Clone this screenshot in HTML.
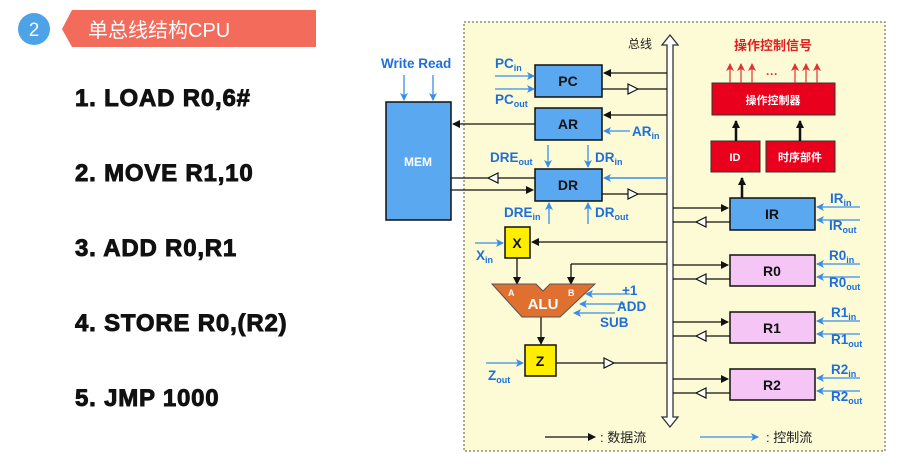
<!DOCTYPE html>
<html><head><meta charset="utf-8"><style>
body{margin:0;width:905px;height:470px;background:#fff;overflow:hidden}
svg{display:block}
.ins{font:bold 24px "Liberation Sans","DejaVu Sans",sans-serif;fill:#111;stroke:#111;stroke-width:0.9;letter-spacing:0.8px}
.bl{font:bold 13.5px "Liberation Sans",sans-serif;fill:#1e6fd9}
.sb{font:bold 9px "Liberation Sans",sans-serif;fill:#1e6fd9}
.bx{font:bold 14px "Liberation Sans",sans-serif;fill:#111}
.cj{font-family:"Liberation Sans","Noto Sans CJK SC",sans-serif}
</style></head><body>
<svg width="905" height="470" viewBox="0 0 905 470" xmlns="http://www.w3.org/2000/svg">
<defs>
<marker id="ab" markerWidth="8" markerHeight="8" refX="7" refY="4" orient="auto" markerUnits="userSpaceOnUse"><path d="M0,0 L8,4 L0,8z" fill="#111"/></marker>
<marker id="au" markerWidth="8" markerHeight="8" refX="7" refY="4" orient="auto" markerUnits="userSpaceOnUse"><path d="M0,0 L8,4 L0,8 L2,4z" fill="#3a8ee8"/></marker>
<marker id="ar" markerWidth="8" markerHeight="8" refX="7" refY="4" orient="auto" markerUnits="userSpaceOnUse"><path d="M0,0 L8,4 L0,8 L2,4z" fill="#d33"/></marker>
</defs>
<circle cx="34" cy="29" r="16" fill="#4da3e8"/>
<text x="34" y="36" text-anchor="middle" font-family="Liberation Sans" font-size="19" fill="#fff">2</text>
<path d="M72,10 L316,10 L316,47 L72,47 L62,29z" fill="#f26b5b"/>
<text x="88" y="37" class="cj" font-size="20" fill="#fff">单总线结构CPU</text>
<text x="75" y="106" class="ins">1.  LOAD R0,6#</text>
<text x="75" y="181" class="ins">2.  MOVE R1,10</text>
<text x="75" y="256" class="ins">3.  ADD R0,R1</text>
<text x="75" y="331" class="ins">4.  STORE R0,(R2)</text>
<text x="75" y="406" class="ins">5.  JMP 1000</text>
<rect x="464" y="22" width="421" height="429" fill="#fdfbd6" stroke="#555" stroke-dasharray="2,2"/>
<path d="M667,45 L667,417 L662,417 L670,427 L678,417 L673,417 L673,45 L678,45 L670,35 L662,45z" fill="#fff" stroke="#333" stroke-width="1.3"/>
<text x="628" y="48" class="cj" font-size="12" fill="#222">总线</text>
<g stroke="#111" stroke-width="1.3" fill="none">
<line x1="667" y1="73" x2="604" y2="73" marker-end="url(#ab)"/>
<line x1="602" y1="89" x2="667" y2="89"/>
<line x1="667" y1="115" x2="604" y2="115" marker-end="url(#ab)"/>
<line x1="535" y1="124" x2="453" y2="124" marker-end="url(#ab)"/>
<line x1="602" y1="194" x2="667" y2="194"/>
<line x1="535" y1="178" x2="451" y2="178"/>
<line x1="451" y1="190" x2="533" y2="190" marker-end="url(#ab)"/>
<line x1="667" y1="242" x2="532" y2="242" marker-end="url(#ab)"/>
<line x1="667" y1="264" x2="571" y2="264"/>
<line x1="571" y1="264" x2="571" y2="284" marker-end="url(#ab)"/>
<line x1="517" y1="258" x2="517" y2="284" marker-end="url(#ab)"/>
<line x1="541" y1="317" x2="541" y2="344" marker-end="url(#ab)"/>
<line x1="556" y1="363" x2="667" y2="363"/>
<line x1="673" y1="208" x2="728" y2="208" marker-end="url(#ab)"/>
<line x1="673" y1="222" x2="730" y2="222"/>
<line x1="673" y1="265" x2="728" y2="265" marker-end="url(#ab)"/>
<line x1="673" y1="279" x2="730" y2="279"/>
<line x1="673" y1="322" x2="728" y2="322" marker-end="url(#ab)"/>
<line x1="673" y1="336" x2="730" y2="336"/>
<line x1="673" y1="379" x2="728" y2="379" marker-end="url(#ab)"/>
<line x1="673" y1="393" x2="730" y2="393"/>
<line x1="545" y1="437" x2="595" y2="437" marker-end="url(#ab)"/>
</g>
<line x1="667" y1="178" x2="604" y2="178" stroke="#3a8ee8" stroke-width="1.5" marker-end="url(#au)"/>
<g fill="#fff" stroke="#111" stroke-width="1.2">
<path d="M628,84 L638,89 L628,94z"/>
<path d="M628,189 L638,194 L628,199z"/>
<path d="M498,173 L488,178 L498,183z"/>
<path d="M604,358 L614,363 L604,368z"/>
<path d="M706,217 L696,222 L706,227z"/>
<path d="M706,274 L696,279 L706,284z"/>
<path d="M706,331 L696,336 L706,341z"/>
<path d="M706,388 L696,393 L706,398z"/>
</g>
<g stroke="#111" stroke-width="1.5">
<rect x="535" y="65" width="67" height="32" fill="#5aa9f0"/>
<rect x="535" y="108" width="67" height="32" fill="#5aa9f0"/>
<rect x="535" y="169" width="67" height="32" fill="#5aa9f0"/>
<rect x="386" y="102" width="65" height="118" fill="#5aa9f0"/>
<rect x="505" y="227" width="25" height="31" fill="#ffee00"/>
<rect x="525" y="345" width="31" height="31" fill="#ffee00"/>
<rect x="730" y="198" width="85" height="32" fill="#5aa9f0"/>
<rect x="730" y="255" width="85" height="31" fill="#f5c6f5"/>
<rect x="730" y="312" width="85" height="31" fill="#f5c6f5"/>
<rect x="730" y="369" width="85" height="31" fill="#f5c6f5"/>
</g>
<path d="M492,284 L536,284 L543,291 L550,284 L595,284 L560,317 L522,317z" fill="#e07030" stroke="#555"/>
<text x="508" y="296" font-family="Liberation Sans" font-weight="bold" font-size="9" fill="#fff">A</text>
<text x="568" y="296" font-family="Liberation Sans" font-weight="bold" font-size="9" fill="#fff">B</text>
<text x="543" y="309" text-anchor="middle" font-family="Liberation Sans" font-weight="bold" font-size="15" fill="#fff">ALU</text>
<g text-anchor="middle">
<text x="568" y="86" class="bx">PC</text><text x="568" y="129" class="bx">AR</text><text x="568" y="190" class="bx">DR</text>
<text x="517" y="248" class="bx">X</text><text x="540" y="366" class="bx">Z</text>
<text x="772" y="219" class="bx">IR</text><text x="772" y="276" class="bx">R0</text><text x="772" y="333" class="bx">R1</text><text x="772" y="390" class="bx">R2</text>
</g>
<text x="418" y="166" text-anchor="middle" font-family="Liberation Sans" font-weight="bold" font-size="12" fill="#fff">MEM</text>
<rect x="712" y="83" width="123" height="32" fill="#e8001c" stroke="#333"/>
<rect x="711" y="141" width="49" height="31" fill="#e8001c" stroke="#333"/>
<rect x="766" y="141" width="69" height="31" fill="#e8001c" stroke="#333"/>
<text x="773" y="104" text-anchor="middle" class="cj" font-weight="bold" font-size="11" fill="#fff">操作控制器</text>
<text x="735" y="161" text-anchor="middle" font-family="Liberation Sans" font-weight="bold" font-size="11" fill="#fff">ID</text>
<text x="800" y="161" text-anchor="middle" class="cj" font-weight="bold" font-size="11" fill="#fff">时序部件</text>
<text x="773" y="50" text-anchor="middle" class="cj" font-weight="bold" font-size="13" fill="#e02020">操作控制信号</text>
<g stroke="#d33" stroke-width="1.2">
<line x1="730" y1="83" x2="730" y2="64" marker-end="url(#ar)"/><line x1="741" y1="83" x2="741" y2="64" marker-end="url(#ar)"/><line x1="752" y1="83" x2="752" y2="64" marker-end="url(#ar)"/>
<line x1="795" y1="83" x2="795" y2="64" marker-end="url(#ar)"/><line x1="806" y1="83" x2="806" y2="64" marker-end="url(#ar)"/><line x1="817" y1="83" x2="817" y2="64" marker-end="url(#ar)"/>
</g>
<text x="772" y="78" text-anchor="middle" font-family="Liberation Sans" font-weight="bold" font-size="12" fill="#d33">···</text>
<g stroke="#111" stroke-width="2.5">
<line x1="742" y1="198" x2="742" y2="178" marker-end="url(#ab)"/>
<line x1="736" y1="141" x2="736" y2="121" marker-end="url(#ab)"/>
<line x1="800" y1="141" x2="800" y2="121" marker-end="url(#ab)"/>
</g>
<g stroke="#3a8ee8" stroke-width="1.3">
<line x1="404" y1="75" x2="404" y2="100" marker-end="url(#au)"/>
<line x1="433" y1="75" x2="433" y2="100" marker-end="url(#au)"/>
<line x1="495" y1="76" x2="534" y2="76" marker-end="url(#au)"/>
<line x1="495" y1="89" x2="534" y2="89" marker-end="url(#au)"/>
<line x1="630" y1="131" x2="604" y2="131" marker-end="url(#au)"/>
<line x1="548" y1="145" x2="548" y2="167" marker-end="url(#au)"/>
<line x1="588" y1="145" x2="588" y2="167" marker-end="url(#au)"/>
<line x1="549" y1="224" x2="549" y2="203" marker-end="url(#au)"/>
<line x1="588" y1="224" x2="588" y2="203" marker-end="url(#au)"/>
<line x1="475" y1="243" x2="503" y2="243" marker-end="url(#au)"/>
<line x1="630" y1="294" x2="586" y2="294" marker-end="url(#au)"/>
<line x1="625" y1="304" x2="580" y2="304" marker-end="url(#au)"/>
<line x1="615" y1="313" x2="574" y2="313" marker-end="url(#au)"/>
<line x1="486" y1="363" x2="523" y2="363" marker-end="url(#au)"/>
<line x1="860" y1="207" x2="817" y2="207" marker-end="url(#au)"/>
<line x1="860" y1="220" x2="817" y2="220" marker-end="url(#au)"/>
<line x1="860" y1="264" x2="817" y2="264" marker-end="url(#au)"/>
<line x1="860" y1="277" x2="817" y2="277" marker-end="url(#au)"/>
<line x1="860" y1="321" x2="817" y2="321" marker-end="url(#au)"/>
<line x1="860" y1="334" x2="817" y2="334" marker-end="url(#au)"/>
<line x1="860" y1="378" x2="817" y2="378" marker-end="url(#au)"/>
<line x1="860" y1="391" x2="817" y2="391" marker-end="url(#au)"/>
<line x1="700" y1="437" x2="758" y2="437" marker-end="url(#au)"/>
</g>
<text x="381" y="68" class="bl">Write Read</text>
<text x="495" y="68" class="bl">PC<tspan class="sb" dy="3">in</tspan></text>
<text x="495" y="104" class="bl">PC<tspan class="sb" dy="3">out</tspan></text>
<text x="632" y="136" class="bl">AR<tspan class="sb" dy="3">in</tspan></text>
<text x="490" y="162" class="bl">DRE<tspan class="sb" dy="3">out</tspan></text>
<text x="595" y="162" class="bl">DR<tspan class="sb" dy="3">in</tspan></text>
<text x="504" y="217" class="bl">DRE<tspan class="sb" dy="3">in</tspan></text>
<text x="595" y="217" class="bl">DR<tspan class="sb" dy="3">out</tspan></text>
<text x="476" y="260" class="bl">X<tspan class="sb" dy="3">in</tspan></text>
<text x="622" y="295" class="bl">+1</text>
<text x="617" y="311" class="bl">ADD</text>
<text x="600" y="327" class="bl">SUB</text>
<text x="488" y="380" class="bl">Z<tspan class="sb" dy="3">out</tspan></text>
<text x="830" y="203" class="bl">IR<tspan class="sb" dy="3">in</tspan></text>
<text x="829" y="230" class="bl">IR<tspan class="sb" dy="3">out</tspan></text>
<text x="829" y="260" class="bl">R0<tspan class="sb" dy="3">in</tspan></text>
<text x="829" y="287" class="bl">R0<tspan class="sb" dy="3">out</tspan></text>
<text x="831" y="317" class="bl">R1<tspan class="sb" dy="3">in</tspan></text>
<text x="831" y="344" class="bl">R1<tspan class="sb" dy="3">out</tspan></text>
<text x="831" y="374" class="bl">R2<tspan class="sb" dy="3">in</tspan></text>
<text x="831" y="401" class="bl">R2<tspan class="sb" dy="3">out</tspan></text>
<text x="600" y="442" class="cj" font-size="13" fill="#222">:  数据流</text>
<text x="766" y="442" class="cj" font-size="13" fill="#222">:  控制流</text>
</svg>
</body></html>
